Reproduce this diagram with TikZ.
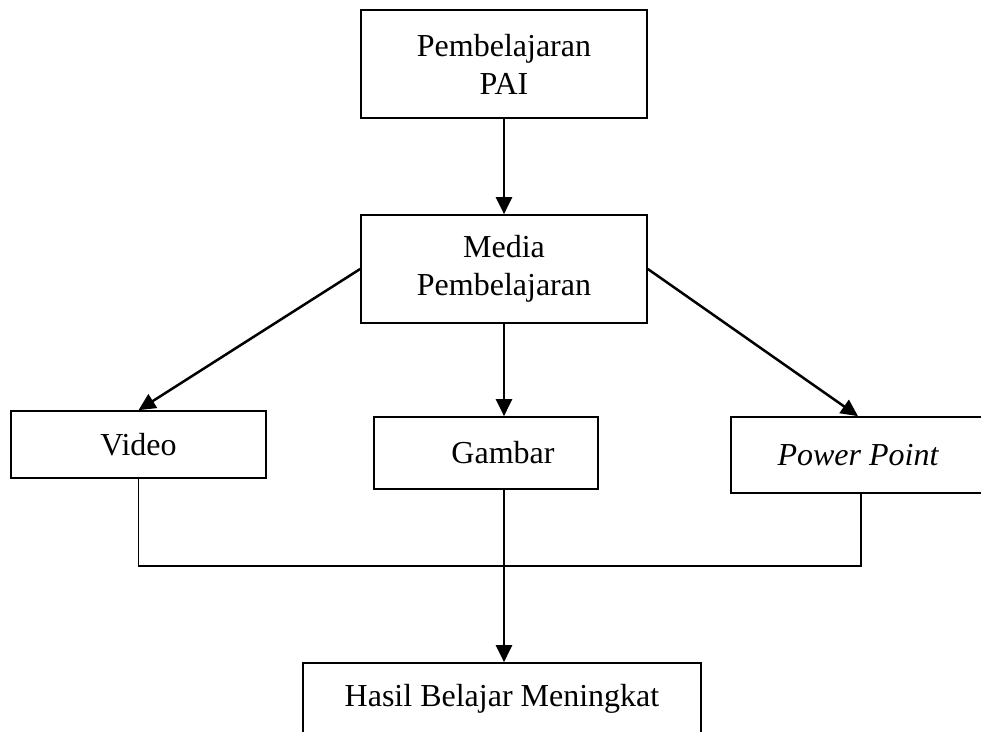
\documentclass[tikz,border=0pt]{standalone}
\usepackage{fontspec}
\setmainfont{Liberation Serif}
\usetikzlibrary{arrows.meta}
\begin{document}
\begin{tikzpicture}[x=1pt,y=-1pt,
  box/.style={draw, line width=1.7pt, rectangle, inner sep=0pt, align=center,
    font=\fontsize{32}{38}\selectfont},
  arr/.style={line width=2.5pt, -{Triangle[length=17pt,width=16pt]}},
  link/.style={line width=1.7pt}]
\useasboundingbox (0,0) rectangle (981,731);
\clip (0,0) rectangle (981,731);
\node[box, minimum width=286pt, minimum height=108pt] (pai) at (504,64) {Pembelajaran\\PAI};
\node[box, minimum width=286pt, minimum height=108pt] (media) at (504,269) {Media\\Pembelajaran};
\node[box, minimum width=255pt, minimum height=67pt] (video) at (138.5,444.5) {Video};
\node[box, minimum width=224pt, minimum height=72pt] (gambar) at (486,453) {\hspace*{34pt}Gambar};
\node[box, minimum width=260pt, minimum height=76pt] (pp) at (861,455) {\itshape Power Point\hspace*{6pt}};
\node[box, minimum width=398pt, minimum height=72pt] (hasil) at (502,699) {Hasil Belajar Meningkat};
\coordinate (join) at (video.south |- 0,566);
\draw[arr] (pai.south) -- (media.north);
\draw[arr] (media.west) -- (video.north);
\draw[arr] (media.east) -- ([xshift=-3pt]pp.north);
\draw[arr] (media.south) -- (media.south |- gambar.north);
\draw[link] (video.south) -- (join) -| (pp.south);
\draw[arr] (media.south |- gambar.south) -- (media.south |- hasil.north);
\end{tikzpicture}
\end{document}
